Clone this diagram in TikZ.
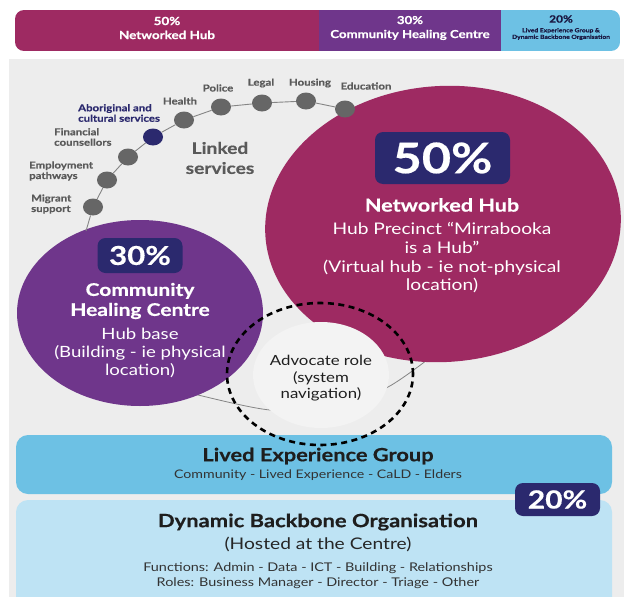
\documentclass[tikz,border=0pt]{standalone}
\usepackage{fontspec}
\setmainfont{Lato}[FakeStretch=1.2,BoldFeatures={FakeBold=0.5}]
\usetikzlibrary{shapes.geometric}
\definecolor{hubmag}{HTML}{9E2A62}
\definecolor{chcpurp}{HTML}{6F368B}
\definecolor{lelblue}{HTML}{6DC1E4}
\definecolor{dboblue}{HTML}{BEE3F4}
\definecolor{navyb}{HTML}{2B296E}
\definecolor{bggray}{HTML}{EDEDED}
\definecolor{advfill}{HTML}{F3F3F3}
\definecolor{dotgray}{HTML}{666666}
\definecolor{labgray}{HTML}{5A5A5A}
\definecolor{darktxt}{HTML}{1E1E1E}
\begin{document}
\begin{tikzpicture}[x=1pt,y=-1pt,
  svcdot/.style={ellipse,fill=dotgray,minimum width=20,minimum height=17,inner sep=0},
  chain/.style={draw=dotgray!80,line width=0.9pt},
  svclab/.style={text=labgray,font=\bfseries\fontsize{9.5}{10.5}\selectfont,inner sep=0},
  badge/.style={fill=navyb,rounded corners=8pt,text=white,inner sep=0},
  wtxt/.style={text=white,align=center,inner sep=0},
  dtxt/.style={text=darktxt,align=center,inner sep=0},
  advdash/.style={draw=black,line width=2.6pt,dash pattern=on 6pt off 4.5pt}]
\useasboundingbox (0,0) rectangle (624,597);
\fill[white] (0,0) rectangle (624,597);
\fill[bggray] (9,59) rectangle (624,597);
% top bar
\begin{scope}
\clip[rounded corners=9pt] (15,10) rectangle (620,51);
\fill[hubmag] (15,10) rectangle (319,51);
\fill[chcpurp] (319,10) rectangle (501,51);
\fill[lelblue] (501,10) rectangle (620,51);
\end{scope}
\node[wtxt,font=\bfseries\fontsize{11.2}{14}\selectfont] (bar50) at (167,28) {50\%\\Networked Hub};
\node[wtxt,font=\bfseries\fontsize{11}{14}\selectfont] (bar30) at (410,28) {30\%\\Community Healing Centre};
\node[text=navyb!60!black,font=\bfseries\fontsize{10}{11}\selectfont,inner sep=0] (bar20) at (561,19) {20\%};
\node[text=navyb!60!black,align=center,font=\bfseries\fontsize{5.6}{6.6}\selectfont,inner sep=0] (bar20s) at (561,34) {Lived Experience Group \&\\Dynamic Backbone Organisation};
% bottom arc line
\draw[dotgray!80,line width=0.8pt] plot[smooth] coordinates {(175,388) (198,395) (270,410) (330,407) (388,387) (440,350)};
% networked hub shape
\fill[hubmag,rotate around={4:(443,224)}] (443,224) ellipse [x radius=178pt, y radius=138pt];
% community healing centre
\fill[chcpurp] (140,313) ellipse [x radius=123pt, y radius=93pt];
% advocate
\fill[advfill] (321,375) ellipse [x radius=68pt, y radius=53pt];
% bottom bars
\fill[lelblue,rounded corners=12pt] (16,435) rectangle (612,494);
\fill[dboblue,rounded corners=12pt] (16,500) rectangle (612,610);
% dashed advocate ring
\draw[advdash] (320,374) ellipse [x radius=93pt, y radius=71pt];
% linked services dots
\coordinate (cmig) at (86,231);
\node[svcdot] (d1) at (93,207) {};
\node[svcdot] (d2) at (107,180) {};
\node[svcdot] (d3) at (128,157) {};
\node[svcdot,fill=navyb] (d4) at (153,137) {};
\node[svcdot] (d5) at (184,120) {};
\node[svcdot] (d6) at (221,107) {};
\node[svcdot] (d7) at (262,103) {};
\node[svcdot] (d8) at (306,101) {};
\node[svcdot] (d9) at (345,109) {};
\draw[chain] (cmig) -- (d1) -- (d2) -- (d3) -- (d4) -- (d5) -- (d6) -- (d7) -- (d8) -- (d9);
\node[svclab,align=left,anchor=west] (l1) at (31,204) {Migrant\\support};
\node[svclab,align=left,anchor=west] (l2) at (29,171) {Employment\\pathways};
\node[svclab,align=left,anchor=west] (l3) at (54,137) {Financial\\counsellors};
\node[svclab,align=left,anchor=west,text=navyb] (l4) at (78,113) {Aboriginal and\\cultural services};
\node[svclab] (l5) at (180,101) {Health};
\node[svclab] (l6) at (218,88) {Police};
\node[svclab] (l7) at (261,83) {Legal};
\node[svclab] (l8) at (310,83) {Housing};
\node[svclab] (l9) at (366,86) {Education};
\node[text=labgray,align=center,inner sep=0,font=\bfseries\fontsize{16}{20}\selectfont] (linked) at (220,158) {Linked\\services};
% hub texts
\node[badge,minimum width=135,minimum height=52,font=\bfseries\fontsize{42}{42}\selectfont] (hub50) at (442.5,158) {50\%};
\node[wtxt,font=\bfseries\fontsize{18}{20}\selectfont] (hubt) at (442,205) {Networked Hub};
\node[wtxt,font=\fontsize{16}{18.7}\selectfont] (hubd) at (442,258) {Hub Precinct “Mirrabooka\\is a Hub”\\(Virtual hub - ie not-physical\\location)};
% community healing centre texts
\node[badge,minimum width=85,minimum height=35,font=\bfseries\fontsize{26}{26}\selectfont] (chc30) at (140,255.5) {30\%};
\node[wtxt,font=\bfseries\fontsize{17.5}{20}\selectfont] (chct) at (140,301) {Community\\Healing Centre};
\node[wtxt,font=\fontsize{15.5}{18}\selectfont] (chcd) at (140,353) {Hub base\\(Building - ie physical\\location)};
% advocate text
\node[dtxt,font=\fontsize{14}{16.5}\selectfont] (adv) at (321,378.5) {Advocate role\\(system\\navigation)};
% bottom texts
\node[dtxt,font=\bfseries\fontsize{18.2}{18}\selectfont] (legt) at (318,456) {Lived Experience Group};
\node[dtxt,text=black!80,font=\fontsize{11.8}{12}\selectfont] (legd) at (318,475) {Community - Lived Experience - CaLD - Elders};
\node[dtxt,font=\bfseries\fontsize{18.3}{18}\selectfont] (dbot) at (318,522) {Dynamic Backbone Organisation};
\node[dtxt,text=black!85,font=\fontsize{16}{17}\selectfont] (dboh) at (318,544) {(Hosted at the Centre)};
\node[dtxt,text=black!80,font=\fontsize{12}{15}\selectfont] (dbod) at (318,575.5) {Functions: Admin - Data - ICT - Building - Relationships\\Roles: Business Manager - Director - Triage - Other};
\node[badge,minimum width=85,minimum height=33,font=\bfseries\fontsize{25}{25}\selectfont] (b20) at (557.5,499.5) {20\%};
\end{tikzpicture}
\end{document}
